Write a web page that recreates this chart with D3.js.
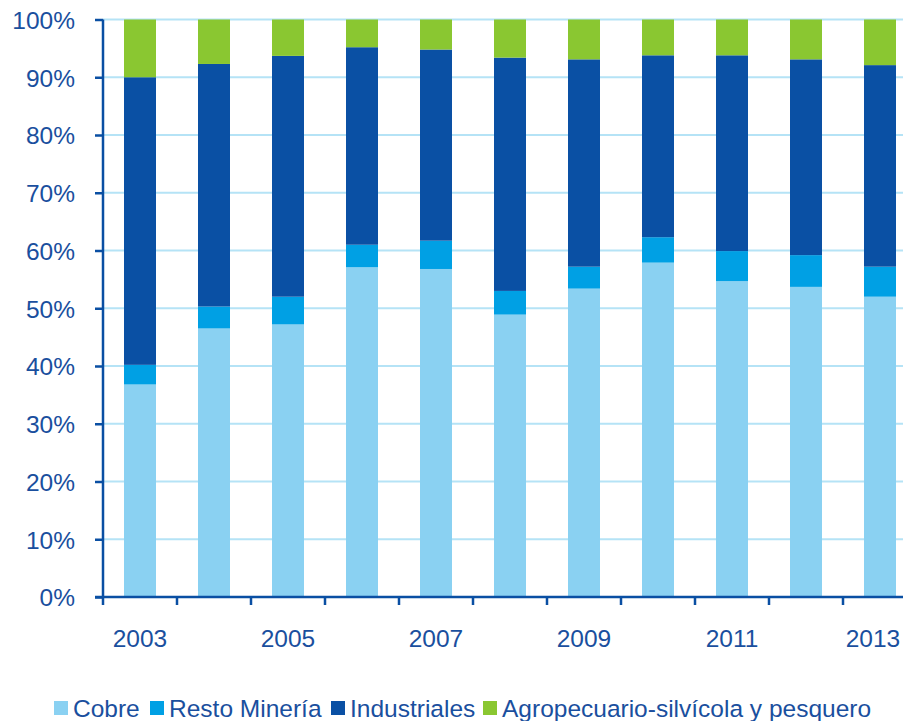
<!DOCTYPE html>
<html>
<head>
<meta charset="utf-8">
<script src="https://cdn.jsdelivr.net/npm/d3@7"></script>
<style>
  body { margin: 0; background: #fff; }
  svg { display: block; font-family: "Liberation Sans", Arial, sans-serif; }
</style>
</head>
<body>
<div id="chart"></div>
<script>
// shares of exports (in %)
const years = ["2003","2004","2005","2006","2007","2008","2009","2010","2011","2012","2013"];
const cobre        = [36.8, 46.5, 47.2, 57.1, 56.8, 48.9, 53.4, 57.9, 54.7, 53.7, 52.0];
const restoMineria = [3.4, 3.8, 4.8, 3.9, 4.9, 4.1, 3.8, 4.4, 5.2, 5.5, 5.2];
const industriales = [49.8, 42.0, 41.7, 34.2, 33.1, 40.4, 35.9, 31.5, 33.9, 33.9, 34.9];
const agro         = [10.0, 7.7, 6.3, 4.8, 5.2, 6.6, 6.9, 6.2, 6.2, 6.9, 7.9];
const seriesNames = ["Cobre", "Resto Minería", "Industriales", "Agropecuario-silvícola y pesquero"];
const yTicks = [0, 10, 20, 30, 40, 50, 60, 70, 80, 90, 100];
const xLabels = ["2003","2005","2007","2009","2011","2013"];

const colors = ["#8ad1f2", "#00a0e4", "#0a50a4", "#8ac731"];
const textColor = "#1a4f9e";
const fontSize = "24.5px";

const W = 903, H = 721;
const margin = {left: 103, top: 19.5, bottom: 124};
const plotH = H - margin.top - margin.bottom;

const svg = d3.select("#chart").append("svg")
    .attr("width", W).attr("height", H);

const rows = years.map((y, i) => ({
    year: y,
    Cobre: cobre[i],
    "Resto Minería": restoMineria[i],
    Industriales: industriales[i],
    "Agropecuario-silvícola y pesquero": agro[i]
}));

const stacked = d3.stack().keys(seriesNames)(rows);

// x band: 74px step, plot runs off the right edge like the original
const x = d3.scaleBand()
    .domain(years)
    .range([margin.left, margin.left + 74 * years.length])
    .padding(0);
const barW = x.bandwidth() * 32 / 74;

const y = d3.scaleLinear()
    .domain([0, 100])
    .range([margin.top + plotH, margin.top]);

// gridlines
svg.append("g").selectAll("line")
    .data(yTicks.filter(d => d > 0))
    .join("line")
    .attr("x1", margin.left).attr("x2", x.range()[1])
    .attr("y1", d => y(d)).attr("y2", d => y(d))
    .attr("stroke", "#b5e3f6").attr("stroke-width", 2);

// bars
svg.append("g").selectAll("g")
    .data(stacked)
    .join("g")
    .attr("fill", (d, i) => colors[i])
    .selectAll("rect")
    .data(d => d)
    .join("rect")
    .attr("x", d => x(d.data.year) + (x.bandwidth() - barW) / 2)
    .attr("width", barW)
    .attr("y", d => y(d[1]))
    .attr("height", d => y(d[0]) - y(d[1]));

// y axis
const yAxis = svg.append("g")
    .attr("transform", `translate(${margin.left},0)`)
    .call(d3.axisLeft(y).tickValues(yTicks).tickSize(8).tickPadding(20)
        .tickFormat(d => d + "%"));
yAxis.select(".domain").attr("stroke", "#0a4fa3").attr("stroke-width", 2.5)
    .attr("d", `M0,${y(100)}V${y(0)}`);
yAxis.selectAll(".tick line").attr("stroke", "#0a4fa3").attr("stroke-width", 2.5);
yAxis.selectAll("text").attr("fill", textColor).style("font-size", fontSize)
    .attr("dy", "0.36em");

// x axis line + ticks at band edges
const x0 = y(0);
svg.append("line")
    .attr("x1", margin.left - 8).attr("x2", x.range()[1])
    .attr("y1", x0).attr("y2", x0)
    .attr("stroke", "#0a4fa3").attr("stroke-width", 2.5);
svg.append("g").selectAll("line")
    .data(years)
    .join("line")
    .attr("x1", d => x(d)).attr("x2", d => x(d))
    .attr("y1", x0).attr("y2", x0 + 8)
    .attr("stroke", "#0a4fa3").attr("stroke-width", 2.5);

// year labels; the last one is nudged in so it stays inside the page
svg.append("g").selectAll("text")
    .data(xLabels)
    .join("text")
    .attr("x", d => Math.min(x(d) + x.bandwidth() / 2, W - 30))
    .attr("y", 647)
    .attr("text-anchor", "middle")
    .attr("fill", textColor)
    .style("font-size", fontSize)
    .text(d => d);

// legend
const legX = [54, 150, 331, 483];
const leg = svg.append("g").selectAll("g")
    .data(seriesNames)
    .join("g")
    .attr("transform", (d, i) => `translate(${legX[i]},701)`);
leg.append("rect").attr("width", 14).attr("height", 14)
    .attr("fill", (d, i) => colors[i]);
leg.append("text")
    .attr("x", 19).attr("y", 15.5)
    .attr("fill", textColor)
    .style("font-size", fontSize)
    .text(d => d);
</script>
</body>
</html>
